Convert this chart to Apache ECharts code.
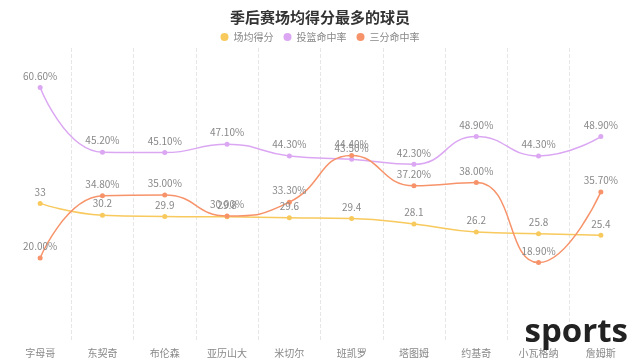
<!DOCTYPE html>
<html>
<head>
<meta charset="utf-8">
<script src="https://cdn.jsdelivr.net/npm/echarts@6/dist/echarts.min.js"></script>
<style>html,body{margin:0;padding:0;background:#fff}#c{width:640px;height:364px}</style>
</head>
<body>
<div id="c"></div>
<script>
const categories = ['字母哥','东契奇','布伦森','亚历山大','米切尔','班凯罗','塔图姆','约基奇','小瓦格纳','詹姆斯'];
const pointsPerGame = [33, 30.2, 29.9, 29.8, 29.6, 29.4, 28.1, 26.2, 25.8, 25.4];
const fgPct = [60.6, 45.2, 45.1, 47.1, 44.3, 43.5, 42.3, 48.9, 44.3, 48.9];
const threePct = [20.0, 34.8, 35.0, 30.0, 33.3, 44.4, 37.2, 38.0, 18.9, 35.7];
const seriesNames = ['场均得分','投篮命中率','三分命中率'];

const font = "'Microsoft YaHei','Noto Sans CJK SC',sans-serif";
const chart = echarts.init(document.getElementById('c'), null, {renderer:'canvas'});
const labelStyle = (pct) => ({
  show: true, position: 'top', distance: 4, color: '#888', fontSize: 10, fontFamily: font,
  formatter: pct ? (p) => p.value.toFixed(2) + '%' : (p) => String(p.value)
});
chart.setOption({
  animation: false,
  color: ['#f8c95c','#dba7f3','#f7936a'],
  title: { text: '季后赛场均得分最多的球员', left: 'center', top: 5,
    textStyle: { fontSize: 15, fontWeight: 'bold', color: '#333', fontFamily: font } },
  legend: { top: 27, left: 'center', icon: 'circle', itemWidth: 8, itemHeight: 8, itemGap: 10,
    textStyle: { color: '#888', fontSize: 10, fontFamily: font }, data: seriesNames },
  grid: { left: 9, right: 8, top: 48, bottom: 22, containLabel: false },
  xAxis: { type: 'category', data: categories, boundaryGap: true,
    axisLine: { show: false }, axisTick: { show: false },
    axisLabel: { color: '#888', fontSize: 10, fontFamily: font, margin: 6 },
    splitLine: { show: true, showMinLine: false, showMaxLine: false, lineStyle: { type: 'dashed', color: '#e6e6e6' } } },
  yAxis: { type: 'value', min: 0, max: 70, show: false, splitLine: { show: false } },
  graphic: [{ type: 'text', right: 12, bottom: 15, z: 100,
    style: { text: 'sports', fontSize: 33, fontWeight: 'bold', fill: '#222', fontFamily: "'Open Sans','DejaVu Sans',sans-serif" } }],
  series: [
    { name: seriesNames[0], type: 'line', smooth: true, data: pointsPerGame, symbol: 'circle', symbolSize: 5,
      lineStyle: { width: 1.5 }, label: labelStyle(false) },
    { name: seriesNames[1], type: 'line', smooth: true, data: fgPct, symbol: 'circle', symbolSize: 5,
      lineStyle: { width: 1.5 }, label: labelStyle(true) },
    { name: seriesNames[2], type: 'line', smooth: true, data: threePct, symbol: 'circle', symbolSize: 5,
      lineStyle: { width: 1.5 }, label: labelStyle(true) }
  ]
});
</script>
</body>
</html>
